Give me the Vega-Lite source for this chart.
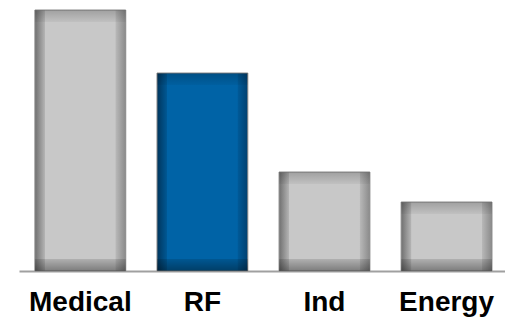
{
  "$schema": "https://vega.github.io/schema/vega-lite/v6.json",
  "width": 486,
  "height": 261,
  "autosize": {"type": "none"},
  "padding": {"left": 19, "top": 10, "right": 0, "bottom": 50},
  "background": "white",
  "config": {"view": {"stroke": null}},
  "data": {"values": [
    {"segment": "Medical", "value": 261},
    {"segment": "RF", "value": 198},
    {"segment": "Ind", "value": 99},
    {"segment": "Energy", "value": 69}
  ]},
  "encoding": {
    "x": {
      "field": "segment", "type": "nominal", "sort": null, "title": null,
      "scale": {"paddingInner": 0.256, "paddingOuter": 0.1185, "align": 0.55},
      "axis": {"labelAngle": 0, "ticks": false, "domainColor": "#a0a0a0", "domainWidth": 2,
               "labelFont": "Liberation Sans", "labelFontWeight": "bold", "labelFontSize": 28,
               "labelColor": "#000000", "labelPadding": 17}
    },
    "y": {
      "field": "value", "type": "quantitative", "title": null,
      "scale": {"domain": [0, 261], "nice": false},
      "axis": null
    }
  },
  "layer": [
    {
      "mark": {"type": "bar", "stroke": "#8a8a8a", "strokeWidth": 1},
      "encoding": {
        "color": {
          "condition": {"test": "datum.segment === 'RF'", "value": {
            "gradient": "linear", "x1": 0, "x2": 1, "y1": 0, "y2": 0,
            "stops": [
              {"offset": 0, "color": "#00355c"},
              {"offset": 0.11, "color": "#005894"},
              {"offset": 0.115, "color": "#0063a6"},
              {"offset": 0.885, "color": "#0063a6"},
              {"offset": 0.89, "color": "#005a98"},
              {"offset": 1, "color": "#004070"}
            ]}},
          "value": {
            "gradient": "linear", "x1": 0, "x2": 1, "y1": 0, "y2": 0,
            "stops": [
              {"offset": 0, "color": "#707070"},
              {"offset": 0.11, "color": "#b4b4b4"},
              {"offset": 0.115, "color": "#c8c8c8"},
              {"offset": 0.885, "color": "#c8c8c8"},
              {"offset": 0.89, "color": "#b8b8b8"},
              {"offset": 1, "color": "#8a8a8a"}
            ]}
        }
      }
    },
    {
      "mark": {"type": "bar", "strokeWidth": 0},
      "encoding": {
        "color": {
          "condition": [
            {"test": "datum.segment === 'Medical'", "value": {
              "gradient": "linear", "x1": 0, "x2": 0, "y1": 0, "y2": 1,
              "stops": [
                {"offset": 0, "color": "rgba(0,0,0,0.2)"},
                {"offset": 0.046, "color": "rgba(0,0,0,0.04)"},
                {"offset": 0.047, "color": "rgba(0,0,0,0)"},
                {"offset": 0.953, "color": "rgba(0,0,0,0)"},
                {"offset": 0.954, "color": "rgba(0,0,0,0.12)"},
                {"offset": 1, "color": "rgba(0,0,0,0.38)"}
              ]}},
            {"test": "datum.segment === 'RF'", "value": {
              "gradient": "linear", "x1": 0, "x2": 0, "y1": 0, "y2": 1,
              "stops": [
                {"offset": 0, "color": "rgba(0,0,0,0.2)"},
                {"offset": 0.061, "color": "rgba(0,0,0,0.04)"},
                {"offset": 0.062, "color": "rgba(0,0,0,0)"},
                {"offset": 0.938, "color": "rgba(0,0,0,0)"},
                {"offset": 0.939, "color": "rgba(0,0,0,0.12)"},
                {"offset": 1, "color": "rgba(0,0,0,0.38)"}
              ]}},
            {"test": "datum.segment === 'Ind'", "value": {
              "gradient": "linear", "x1": 0, "x2": 0, "y1": 0, "y2": 1,
              "stops": [
                {"offset": 0, "color": "rgba(0,0,0,0.2)"},
                {"offset": 0.121, "color": "rgba(0,0,0,0.04)"},
                {"offset": 0.122, "color": "rgba(0,0,0,0)"},
                {"offset": 0.878, "color": "rgba(0,0,0,0)"},
                {"offset": 0.879, "color": "rgba(0,0,0,0.12)"},
                {"offset": 1, "color": "rgba(0,0,0,0.38)"}
              ]}}
          ],
          "value": {
            "gradient": "linear", "x1": 0, "x2": 0, "y1": 0, "y2": 1,
            "stops": [
              {"offset": 0, "color": "rgba(0,0,0,0.2)"},
              {"offset": 0.174, "color": "rgba(0,0,0,0.04)"},
              {"offset": 0.175, "color": "rgba(0,0,0,0)"},
              {"offset": 0.825, "color": "rgba(0,0,0,0)"},
              {"offset": 0.826, "color": "rgba(0,0,0,0.12)"},
              {"offset": 1, "color": "rgba(0,0,0,0.38)"}
            ]}
        }
      }
    }
  ]
}
